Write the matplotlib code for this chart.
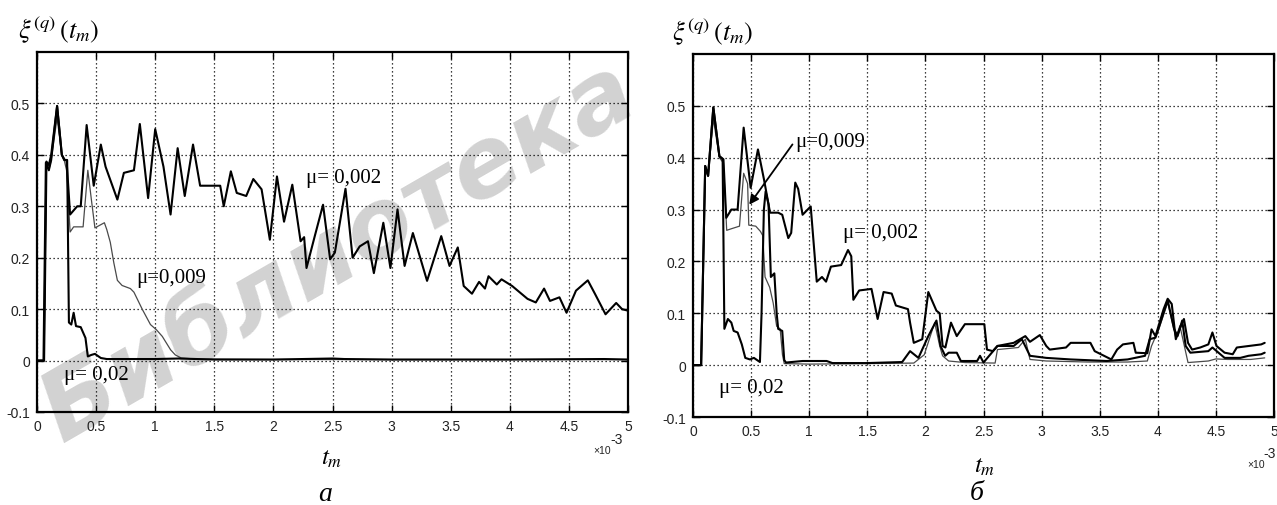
import matplotlib
matplotlib.use("Agg")
import matplotlib.pyplot as plt
import numpy as np

plt.rcParams['mathtext.fontset'] = 'stix'
plt.rcParams['font.family'] = ['Liberation Sans', 'DejaVu Sans']

W, H = 1277, 506

# ---------------- data (t in units of 1e-3) ----------------
a_mu002 = [(0, 0), (0.06, 0), (0.08, 0.387), (0.10, 0.38), (0.12, 0.40), (0.17, 0.495), (0.21, 0.40),
           (0.23, 0.39), (0.25, 0.39), (0.28, 0.284), (0.34, 0.30), (0.37, 0.30), (0.42, 0.458),
           (0.48, 0.34), (0.54, 0.42), (0.58, 0.377), (0.68, 0.313), (0.735, 0.365), (0.82, 0.37),
           (0.87, 0.46), (0.94, 0.316), (1.0, 0.45), (1.07, 0.377), (1.13, 0.284), (1.19, 0.413),
           (1.25, 0.32), (1.32, 0.42), (1.38, 0.34), (1.55, 0.34), (1.58, 0.30), (1.64, 0.368),
           (1.69, 0.326), (1.77, 0.32), (1.83, 0.353), (1.9, 0.333), (1.97, 0.235), (2.03, 0.358),
           (2.09, 0.27), (2.16, 0.342), (2.23, 0.232), (2.26, 0.24), (2.28, 0.18), (2.35, 0.242),
           (2.42, 0.303), (2.48, 0.197), (2.52, 0.21), (2.61, 0.334), (2.67, 0.2), (2.73, 0.222),
           (2.80, 0.232), (2.85, 0.17), (2.93, 0.268), (2.99, 0.18), (3.05, 0.294), (3.11, 0.184),
           (3.18, 0.248), (3.30, 0.155), (3.42, 0.242), (3.49, 0.184), (3.56, 0.22), (3.61, 0.145),
           (3.68, 0.13), (3.74, 0.153), (3.79, 0.14), (3.82, 0.164), (3.89, 0.148), (3.93, 0.158),
           (4.02, 0.145), (4.15, 0.12), (4.22, 0.113), (4.29, 0.14), (4.34, 0.116), (4.42, 0.123),
           (4.48, 0.093), (4.56, 0.136), (4.66, 0.156), (4.72, 0.13), (4.81, 0.09), (4.9, 0.112),
           (4.95, 0.1), (5.0, 0.097)]

a_mu009 = [(0, 0), (0.06, 0), (0.08, 0.385), (0.10, 0.37), (0.12, 0.39), (0.17, 0.472), (0.21, 0.40),
           (0.23, 0.39), (0.25, 0.37), (0.28, 0.25), (0.31, 0.26), (0.39, 0.26), (0.43, 0.37),
           (0.46, 0.313), (0.49, 0.258), (0.57, 0.268), (0.59, 0.255), (0.62, 0.23), (0.65, 0.19),
           (0.68, 0.156), (0.72, 0.146), (0.79, 0.14), (0.82, 0.133), (0.89, 0.10), (0.96, 0.07),
           (1.01, 0.06), (1.06, 0.047), (1.13, 0.021), (1.17, 0.011), (1.22, 0.005), (1.34, 0.003),
           (2.0, 0.002), (3.0, 0.002), (4.0, 0.002), (5.0, 0.002)]

a_mu02 = [(0, 0), (0.055, 0), (0.075, 0.385), (0.10, 0.37), (0.12, 0.39), (0.17, 0.495), (0.21, 0.40),
          (0.235, 0.39), (0.255, 0.39), (0.27, 0.074), (0.29, 0.07), (0.31, 0.093), (0.33, 0.067),
          (0.37, 0.065), (0.41, 0.044), (0.43, 0.008), (0.46, 0.011), (0.49, 0.013), (0.54, 0.005),
          (0.59, 0.003), (1.0, 0.003), (1.2, 0.004), (1.5, 0.002), (2.0, 0.002), (2.5, 0.004),
          (2.6, 0.003), (3.0, 0.002), (4.0, 0.002), (4.8, 0.003), (5.0, 0.002)]

b_mu002 = [(0, 0), (0.07, 0), (0.105, 0.384), (0.13, 0.365), (0.175, 0.497), (0.227, 0.403),
           (0.262, 0.397), (0.286, 0.284), (0.33, 0.30), (0.384, 0.30), (0.436, 0.458), (0.496, 0.342),
           (0.559, 0.416), (0.611, 0.358), (0.663, 0.294), (0.733, 0.294), (0.768, 0.29), (0.82, 0.245),
           (0.845, 0.255), (0.88, 0.352), (0.905, 0.34), (0.943, 0.29), (1.013, 0.306), (1.065, 0.161),
           (1.11, 0.17), (1.145, 0.161), (1.187, 0.19), (1.275, 0.193), (1.334, 0.222), (1.362, 0.21),
           (1.38, 0.126), (1.43, 0.144), (1.536, 0.147), (1.589, 0.089), (1.64, 0.141), (1.71, 0.138),
           (1.746, 0.115), (1.85, 0.108), (1.868, 0.082), (1.90, 0.043), (1.973, 0.05), (2.025, 0.141),
           (2.095, 0.105), (2.123, 0.10), (2.148, 0.037), (2.172, 0.034), (2.22, 0.082), (2.27, 0.056),
           (2.34, 0.079), (2.507, 0.079), (2.53, 0.03), (2.58, 0.027), (2.62, 0.037), (2.76, 0.043),
           (2.86, 0.056), (2.9, 0.045), (2.985, 0.058), (3.04, 0.037), (3.07, 0.03), (3.21, 0.034),
           (3.25, 0.043), (3.42, 0.043), (3.457, 0.027), (3.6, 0.011), (3.65, 0.03), (3.70, 0.04),
           (3.79, 0.043), (3.81, 0.024), (3.91, 0.023), (3.946, 0.069), (3.98, 0.056), (4.05, 0.108),
           (4.085, 0.128), (4.12, 0.118), (4.155, 0.05), (4.21, 0.082), (4.225, 0.089), (4.26, 0.043),
           (4.295, 0.03), (4.365, 0.034), (4.435, 0.04), (4.47, 0.063), (4.505, 0.037), (4.575, 0.024),
           (4.645, 0.021), (4.68, 0.034), (4.89, 0.04), (4.92, 0.043)]

b_mu009 = [(0, 0), (0.07, 0), (0.105, 0.384), (0.13, 0.365), (0.175, 0.475), (0.227, 0.40),
           (0.262, 0.39), (0.29, 0.26), (0.33, 0.263), (0.40, 0.268), (0.436, 0.37), (0.47, 0.35),
           (0.48, 0.27), (0.54, 0.268), (0.58, 0.258), (0.60, 0.25), (0.62, 0.17), (0.66, 0.15),
           (0.69, 0.12), (0.72, 0.075), (0.75, 0.07), (0.77, 0.02), (0.785, 0.003), (1.0, 0.002),
           (1.5, 0.003), (1.9, 0.004), (1.99, 0.02), (2.08, 0.082), (2.123, 0.037), (2.148, 0.018),
           (2.2, 0.008), (2.34, 0.005), (2.6, 0.004), (2.62, 0.03), (2.8, 0.034), (2.86, 0.05),
           (2.9, 0.011), (3.04, 0.008), (3.4, 0.006), (3.74, 0.006), (3.91, 0.008), (3.946, 0.037),
           (4.01, 0.07), (4.085, 0.121), (4.155, 0.053), (4.19, 0.076), (4.26, 0.005), (4.435, 0.008),
           (4.5, 0.012), (4.6, 0.011), (4.8, 0.011), (4.92, 0.014)]

b_mu02 = [(0, 0), (0.07, 0), (0.105, 0.384), (0.13, 0.365), (0.175, 0.497), (0.227, 0.403),
          (0.255, 0.397), (0.27, 0.07), (0.30, 0.089), (0.33, 0.082), (0.35, 0.066), (0.384, 0.063),
          (0.42, 0.04), (0.45, 0.014), (0.49, 0.011), (0.524, 0.014), (0.576, 0.006), (0.59, 0.1),
          (0.61, 0.30), (0.625, 0.335), (0.65, 0.31), (0.67, 0.17), (0.70, 0.177), (0.72, 0.10),
          (0.733, 0.07), (0.768, 0.066), (0.785, 0.01), (0.80, 0.005), (0.943, 0.008), (1.15, 0.008),
          (1.2, 0.004), (1.5, 0.004), (1.80, 0.006), (1.868, 0.027), (1.94, 0.014), (2.025, 0.056),
          (2.095, 0.086), (2.13, 0.037), (2.17, 0.018), (2.2, 0.024), (2.27, 0.024), (2.305, 0.008),
          (2.445, 0.008), (2.47, 0.018), (2.5, 0.005), (2.62, 0.037), (2.76, 0.037), (2.83, 0.05),
          (2.9, 0.018), (3.04, 0.014), (3.25, 0.011), (3.56, 0.008), (3.74, 0.011), (3.89, 0.018),
          (3.93, 0.05), (3.98, 0.053), (4.085, 0.125), (4.14, 0.07), (4.17, 0.056), (4.21, 0.086),
          (4.24, 0.037), (4.28, 0.024), (4.435, 0.027), (4.47, 0.034), (4.575, 0.014), (4.71, 0.014),
          (4.78, 0.018), (4.89, 0.021), (4.92, 0.024)]

x_ticks = [0, 0.5, 1, 1.5, 2, 2.5, 3, 3.5, 4, 4.5, 5]
x_ticklabels = ['0', '0.5', '1', '1.5', '2', '2.5', '3', '3.5', '4', '4.5', '5']
y_ticks = [-0.1, 0, 0.1, 0.2, 0.3, 0.4, 0.5]
y_ticklabels = ['-0.1', '0', '0.1', '0.2', '0.3', '0.4', '0.5']

# ---------------- figure ----------------
fig = plt.figure(figsize=(W / 100, H / 100), dpi=100)


def px_axes(x0, y0, x1, y1):
    return fig.add_axes([x0 / W, 1 - y1 / H, (x1 - x0) / W, (y1 - y0) / H])


# watermark (light grey, behind the plots)
fig.text(0.02, 0.09, 'Библиотека', rotation=30, fontsize=70, color='#d2d2d2',
         style='italic', fontweight='bold', family=['DejaVu Sans'],
         ha='left', va='bottom', zorder=-5)

axA = px_axes(37, 53, 628, 413)
axB = px_axes(693, 55, 1274, 418)

for ax in (axA, axB):
    ax.set_facecolor('none')
    ax.set_xlim(0, 5)
    ax.set_ylim(-0.1, 0.6)
    ax.set_xticks(x_ticks)
    ax.set_xticklabels(x_ticklabels)
    ax.set_yticks(y_ticks)
    ax.set_yticklabels(y_ticklabels)
    ax.grid(True, color='black', linestyle=(0, (1, 2.2)), linewidth=0.9)
    ax.tick_params(direction='in', length=5, width=1.0, top=True, right=True,
                   labelsize=10, colors='black', labelcolor='#222222', pad=5)
    for s in ax.spines.values():
        s.set_linewidth(1.6)
        s.set_color('black')


def plot_series(ax, pts, lw, color, z):
    t = [p[0] for p in pts]
    v = [p[1] for p in pts]
    ax.plot(t, v, color=color, linewidth=lw, zorder=z,
            solid_joinstyle='round', solid_capstyle='round')


plot_series(axA, a_mu009, 0.9, '#4a4a4a', 3)
plot_series(axA, a_mu02, 1.5, 'black', 4)
plot_series(axA, a_mu002, 1.5, 'black', 5)

plot_series(axB, b_mu009, 0.9, '#4a4a4a', 3)
plot_series(axB, b_mu02, 1.5, 'black', 4)
plot_series(axB, b_mu002, 1.5, 'black', 5)

lab_font = dict(family=['Liberation Serif', 'DejaVu Serif'], fontsize=15, color='black', zorder=6)
axA.text(2.28, 0.347, 'μ= 0,002', **lab_font)
axA.text(0.84, 0.152, 'μ=0,009', **lab_font)
axA.text(0.23, -0.036, 'μ= 0,02', **lab_font)

axB.text(0.88, 0.423, 'μ=0,009', **lab_font)
axB.text(1.29, 0.247, 'μ= 0,002', **lab_font)
axB.text(0.22, -0.052, 'μ= 0,02', **lab_font)
axB.annotate('', xy=(0.47, 0.305), xytext=(0.87, 0.43),
             arrowprops=dict(arrowstyle='-|>', color='black', lw=1.3, mutation_scale=14))

# y labels
fig.text(18 / W, 1 - 30 / H, r'$\xi^{(q)}\,\left(t_m\right)$', fontsize=19, ha='left', va='center')
fig.text(672 / W, 1 - 32 / H, r'$\xi^{(q)}\,\left(t_m\right)$', fontsize=19, ha='left', va='center')

# x labels
fig.text(332 / W, 1 - 458 / H, r'$t_m$', fontsize=18, ha='center', va='center')
fig.text(985 / W, 1 - 466 / H, r'$t_m$', fontsize=18, ha='center', va='center')

# exponent labels
fig.text(602 / W, 1 - 451 / H, '×10', fontsize=7.5, ha='center', va='center', color='#222222')
fig.text(617 / W, 1 - 440 / H, '-3', fontsize=10, ha='center', va='center', color='#222222')
fig.text(1256 / W, 1 - 465 / H, '×10', fontsize=7.5, ha='center', va='center', color='#222222')
fig.text(1270 / W, 1 - 454 / H, '-3', fontsize=10, ha='center', va='center', color='#222222')

# panel letters
fig.text(325 / W, 1 - 495 / H, 'а', fontsize=20, style='italic',
         family=['Liberation Serif', 'DejaVu Serif'], ha='center', va='center')
fig.text(977 / W, 1 - 494 / H, 'б', fontsize=20, style='italic',
         family=['Liberation Serif', 'DejaVu Serif'], ha='center', va='center')

fig.savefig('out.png', dpi=100)
